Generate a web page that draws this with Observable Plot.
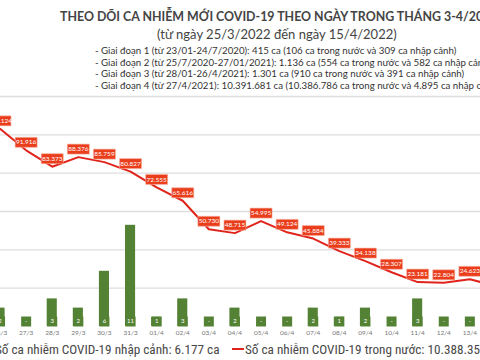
<!DOCTYPE html>
<html><head><meta charset="utf-8">
<script src="https://cdn.jsdelivr.net/npm/d3@7"></script>
<script src="https://cdn.jsdelivr.net/npm/@observablehq/plot@0.6"></script>
<style>
html,body{margin:0;padding:0;background:#fff;}
#wrap{position:relative;width:480px;height:360px;overflow:hidden;background:#fff;font-family:Lato,"Noto Sans",sans-serif;}
.abs{position:absolute;white-space:nowrap;line-height:1;}
#t1{left:60px;top:11px;font-weight:700;font-size:12.4px;color:#444;}
#t2{left:157px;top:28px;font-size:13px;color:#444;}
.bul{left:95px;font-size:9.7px;color:#333;}
#chartBox{position:absolute;left:0;top:90px;width:480px;height:250px;}
#chartBox svg{position:absolute;left:0;top:0;}
.leg{top:343px;font-size:13.2px;color:#484848;font-family:"Liberation Sans Narrow","Arial Narrow","Roboto Condensed",sans-serif;}
.sw{display:inline-block;width:11px;height:11px;background:#548235;margin-right:6px;vertical-align:-1px;}
.ln{display:inline-block;width:12px;height:2px;background:#e0241b;margin-right:1px;vertical-align:4px;}
</style></head>
<body>
<div id="wrap">
  <div class="abs" id="t1"></div>
  <div class="abs" id="t2"></div>
  <div id="bullets"></div>
  <div id="chartBox"></div>
  <div class="abs leg" id="legA" style="left:-22px"><span class="sw"></span><span id="legAtxt"></span></div>
  <div class="abs leg" id="legB" style="left:232px"><span class="ln"></span><span id="legBtxt"></span></div>
</div>
<script>
const title1 = "THEO DÕI CA NHIỄM MỚI COVID-19 THEO NGÀY TRONG THÁNG 3-4/2022";
const title2 = "(từ ngày 25/3/2022 đến ngày 15/4/2022)";
const bulletLines = [
  "- Giai đoạn 1 (từ 23/01-24/7/2020): 415 ca (106 ca trong nước và 309 ca nhập cảnh)",
  "- Giai đoạn 2 (từ 25/7/2020-27/01/2021): 1.136 ca (554 ca trong nước và 582 ca nhập cảnh)",
  "- Giai đoạn 3 (từ 28/01-26/4/2021): 1.301 ca (910 ca trong nước và 391 ca nhập cảnh)",
  "- Giai đoạn 4 (từ 27/4/2021): 10.391.681 ca (10.386.786 ca trong nước và 4.895 ca nhập cảnh)"
];
const legendImported = "Số ca nhiễm COVID-19 nhập cảnh: 6.177 ca";
const legendDomestic = "Số ca nhiễm COVID-19 trong nước: 10.388.355 ca";

// categories (dates)
const dates = ["26/3","27/3","28/3","29/3","30/3","31/3","01/4","02/4","03/4","04/4",
               "05/4","06/4","07/4","08/4","09/4","10/4","11/4","12/4","13/4","14/4"];
// domestic cases (line)
const domestic = [103124, 91916, 83373, 88376, 85759, 80827, 72555, 65616, 50730, 48715,
                  54995, 49124, 45884, 39333, 34138, 28307, 23181, 22804, 24623, 21136];
// imported cases (bars)
const imported = [2, 0, 3, 2, 6, 11, 1, 3, 0, 2,
                  0, 0, 2, 1, 2, 0, 3, 0, 0, 1];
const lineTicks = [20000, 40000, 60000, 80000, 100000, 120000];

const GREEN = "#548235", RED = "#e0241b", LBL = "#ea3d1c";

document.getElementById("t1").textContent = title1;
document.getElementById("t2").textContent = title2;
const bl = document.getElementById("bullets");
const tops = [46, 57.5, 69, 81];
bulletLines.forEach((s, i) => {
  const d = document.createElement("div");
  d.className = "abs bul"; d.style.top = tops[i] + "px"; d.textContent = s;
  bl.appendChild(d);
});
document.getElementById("legAtxt").textContent = legendImported;
document.getElementById("legBtxt").textContent = legendDomestic;

const data = dates.map((d, i) => ({date: d, dom: domestic[i], imp: imported[i]}));
const fmt = d3.formatLocale({thousands: ".", decimal: ",", grouping: [3], currency: ["", ""]}).format(",d");
const box = (w, h) => ({draw(ctx) {
  ctx.moveTo(-w/2, -h/2); ctx.lineTo(w/2, -h/2); ctx.lineTo(w/2, h/2); ctx.lineTo(-w/2, h/2); ctx.closePath();
}});
const xRange = [-13.5, 508.5];
const common = {width: 480, height: 250, marginTop: 6, marginBottom: 14, marginLeft: 0, marginRight: 0,
  style: {background: "transparent", overflow: "visible", fontFamily: "Lato, sans-serif"}};

const linePlot = Plot.plot({
  ...common,
  x: {type: "band", domain: dates, range: xRange, padding: 0, round: false, axis: null},
  y: {domain: [0, 120000], axis: null},
  marks: [
    Plot.gridY(lineTicks, {stroke: "#dedede", strokeOpacity: 1, strokeWidth: 1.3}),
    Plot.line(data, {x: "date", y: "dom", stroke: RED, strokeWidth: 2}),
    Plot.dot(data, {x: "date", y: "dom", dy: -8, symbol: box(22, 10), fill: LBL, stroke: "#f6b3a3", strokeWidth: 0.6}),
    Plot.text(data, {x: "date", y: "dom", dy: -8, text: d => fmt(d.dom), fill: "white", fontSize: 6.5})
  ]
});

const barPlot = Plot.plot({
  ...common,
  x: {type: "band", domain: dates, range: xRange, padding: 0, round: false, axis: null},
  y: {domain: [0, 25], axis: null},
  marks: [
    Plot.barY(data, {x: "date", y: "imp", fill: GREEN, insetLeft: 8, insetRight: 8}),
    Plot.dot(data, {x: "date", y: 0, dy: -5, symbol: box(10, 10), fill: GREEN}),
    Plot.text(data, {x: "date", y: 0, dy: -5, text: d => d.imp === 0 ? "-" : String(d.imp), fill: "white", fontSize: 6}),
    Plot.axisX({tickSize: 0, tickPadding: 4, fontSize: 6.5, fill: "#777", label: null})
  ]
});

const cb = document.getElementById("chartBox");
cb.appendChild(linePlot);
cb.appendChild(barPlot);
</script>
</body></html>
